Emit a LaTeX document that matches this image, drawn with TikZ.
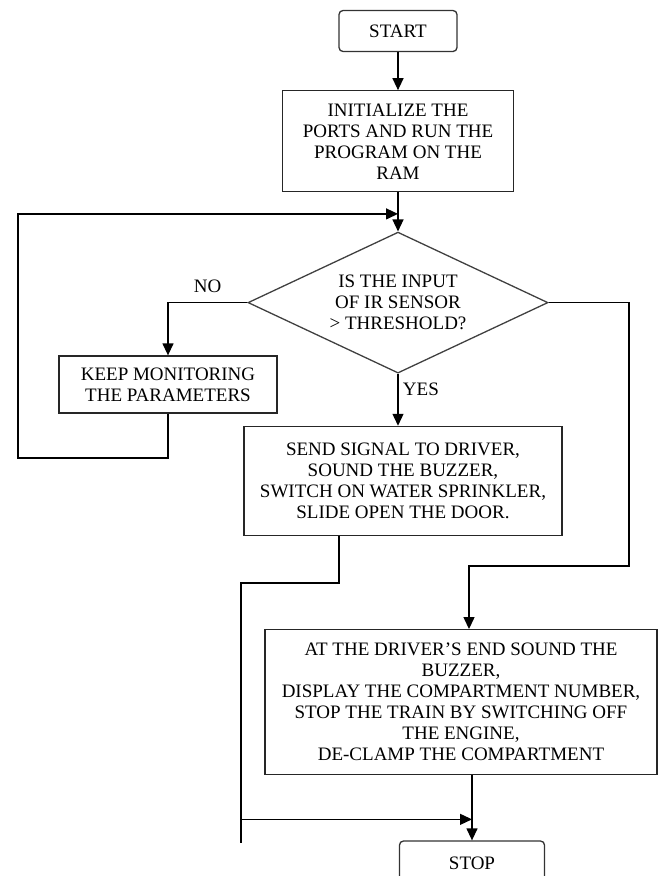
\documentclass[tikz,border=0pt]{standalone}
\usepackage{fontspec}
\setmainfont{Liberation Serif}
\usetikzlibrary{arrows.meta,calc,positioning,shapes.geometric}

\begin{document}
\begin{tikzpicture}[x=1pt,y=1pt,>={Triangle[length=12pt,width=11pt]},line width=1.3pt,
		align=center,font=\fontsize{19pt}{21pt}\selectfont,
		termbox/.style={draw=black!80,rounded corners=4pt,inner sep=0pt,minimum width=118pt,minimum height=41pt},
		procbox/.style={draw=black!85,inner sep=0pt},
		decbox/.style={draw=black!75,diamond,aspect=2.13,inner sep=0pt,minimum width=300pt,minimum height=141pt}]
			\useasboundingbox (0,0) rectangle (661,-876);
			\node[termbox] (start) at (398,-31) {START};
			\node[procbox,minimum width=231pt,minimum height=101pt] [below=38pt of start] (init) {INITIALIZE THE\\PORTS AND RUN THE\\PROGRAM ON THE\\RAM};
			\node[decbox] [below=39pt of init] (dec) {IS THE INPUT\\OF IR SENSOR\\> THRESHOLD?};
			\node[procbox,minimum width=218pt,minimum height=57pt] (keep) at (168,-384.5) {KEEP MONITORING\\THE PARAMETERS};
			\node[procbox,minimum width=318pt,minimum height=109pt] [below=52pt of dec,xshift=5pt] (send) {SEND SIGNAL TO DRIVER,\\SOUND THE BUZZER,\\SWITCH ON WATER SPRINKLER,\\SLIDE OPEN THE DOOR.};
			\node[procbox,minimum width=392pt,minimum height=145pt] [below=93pt of send,xshift=58pt] (driver) {AT THE DRIVER’S END SOUND THE\\BUZZER,\\DISPLAY THE COMPARTMENT NUMBER,\\STOP THE TRAIN BY SWITCHING OFF\\THE ENGINE,\\DE-CLAMP THE COMPARTMENT};
			\node[termbox,minimum width=145pt,minimum height=45pt] [below=65pt of driver,xshift=11pt] (stop) {STOP};
			% joints of the connectors
			\coordinate (merge) at ($(init.south)!0.55!(dec.north)$);
			\coordinate (back) at (18,-458);
			\coordinate (sendout) at ($(send.south west)!0.3!(send.south east)$);
			\coordinate (lowleft) at (241,-583);
			\coordinate (stub) at (241,-843);
			\coordinate (rt) at (629,-566);
			\coordinate (drvin) at ($(driver.north)+(8,0)$);
			\coordinate (join) at ($(stop.north)+(0,21)$);
			\draw[->] (start) -- (init);
			\draw[->] (init) -- (dec);
			\draw[->] (dec.west) -| node[pos=0.25,above=6pt] {NO} (keep.north);
			\draw[->] (dec.south) -- node[pos=0.3,right=1pt] {YES} (dec.south |- send.north);
			\draw[->] (keep.south) |- (back) |- (merge);
			\draw[->] (dec.east) -| (rt) -| (drvin);
			\draw (sendout) |- (lowleft) -- (stub);
			\draw[->] (lowleft |- join) -- (join);
			\draw[->] (stop.north |- driver.south) -- (stop.north);
\end{tikzpicture}
\end{document}
